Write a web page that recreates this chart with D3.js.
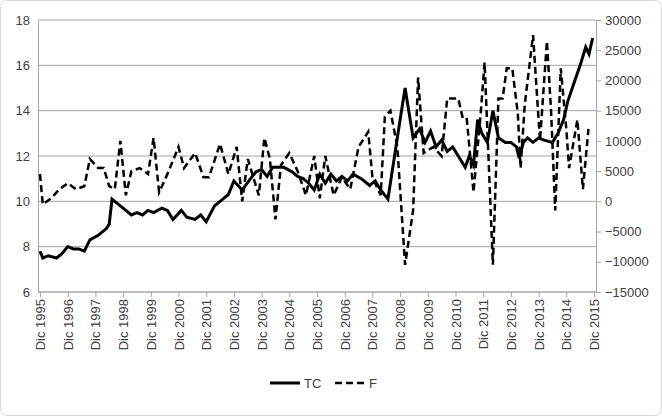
<!DOCTYPE html>
<html><head><meta charset="utf-8">
<script src="https://cdn.jsdelivr.net/npm/d3@7"></script>
<style>body{margin:0;background:#fff}text{font-family:"Liberation Sans Narrow","Liberation Sans",Arial,sans-serif;fill:#404040}</style>
</head><body><svg id="c" width="662" height="416"></svg>
<script>
const years = d3.range(1995, 2016).map(y => "Dic " + y);
const leftTicks = [6, 8, 10, 12, 14, 16, 18];
const rightTicks = d3.range(-15000, 30001, 5000);
const tcT = [1995.9,1996.0,1996.2,1996.5,1996.7,1996.9,1997.1,1997.3,1997.5,1997.7,1998.0,1998.3,1998.4,1998.5,1998.7,1998.9,1999.2,1999.4,1999.6,1999.8,2000,2000.3,2000.5,2000.7,2001,2001.2,2001.5,2001.7,2001.9,2002.2,2002.5,2002.7,2002.9,2003.2,2003.5,2003.7,2003.9,2004.1,2004.3,2004.7,2005,2005.2,2005.4,2005.6,2005.8,2006,2006.2,2006.4,2006.6,2006.8,2007,2007.2,2007.5,2007.8,2008.0,2008.2,2008.46,2008.7,2008.9,2009.08,2009.37,2009.6,2009.8,2010.0,2010.2,2010.4,2010.6,2010.8,2011.0,2011.25,2011.4,2011.55,2011.7,2011.85,2012.05,2012.25,2012.45,2012.7,2012.9,2013.1,2013.2,2013.35,2013.5,2013.7,2013.9,2014.1,2014.4,2014.6,2014.8,2014.95,2015.2,2015.4,2015.6,2015.72,2015.85];
const tcV = [7.8,7.5,7.6,7.5,7.7,8.0,7.9,7.9,7.8,8.3,8.5,8.8,9.0,10.1,9.9,9.7,9.4,9.5,9.4,9.6,9.5,9.7,9.6,9.2,9.6,9.3,9.2,9.4,9.1,9.8,10.1,10.3,10.9,10.5,11.0,11.3,11.4,11.1,11.5,11.5,11.3,11.1,11.0,10.8,10.5,11.2,10.8,11.2,10.9,11.1,10.9,11.2,11.0,10.7,10.9,10.5,10.1,12.0,13.6,15.0,12.8,13.2,12.6,13.1,12.4,12.7,12.2,12.4,12.0,11.5,12.0,11.6,13.6,13.0,12.6,14.0,12.8,12.6,12.6,12.4,11.9,12.6,12.8,12.6,12.8,12.7,12.6,13.0,13.6,14.4,15.3,16.0,16.8,16.5,17.2];
const fT = [1995.9,1996.0,1996.3,1996.6,1996.9,1997.2,1997.5,1997.7,1998.0,1998.2,1998.4,1998.6,1998.8,1999.0,1999.2,1999.5,1999.8,2000.0,2000.2,2000.5,2000.9,2001.1,2001.5,2001.8,2002.0,2002.4,2002.7,2003.0,2003.2,2003.4,2003.8,2004.0,2004.2,2004.4,2004.6,2004.9,2005.2,2005.5,2005.8,2006.0,2006.2,2006.5,2006.8,2007.1,2007.4,2007.75,2007.9,2008.2,2008.35,2008.55,2008.8,2009.08,2009.37,2009.55,2009.75,2010.1,2010.4,2010.6,2011.0,2011.15,2011.3,2011.55,2011.8,2011.95,2012.25,2012.45,2012.6,2012.75,2012.95,2013.15,2013.25,2013.4,2013.7,2013.95,2014.2,2014.35,2014.5,2014.7,2014.9,2015.0,2015.3,2015.5,2015.7];
const fV = [4500,-500,500,2000,3000,2000,2500,7000,5500,5500,2500,2000,10000,1000,5000,5500,4500,10500,1500,4500,9000,5500,8000,4000,4000,9500,4500,9000,0,7000,1000,10500,7000,-3000,6000,8000,5000,1000,7500,500,7500,1000,4000,2000,9000,11500,4000,1000,14000,15000,9000,-10500,-1500,20500,8000,9000,7500,17000,17000,14000,14000,1500,14000,23000,-10500,17000,17000,22000,22000,14500,5500,16000,27500,10000,26500,15000,-1500,22000,12000,5500,13500,2000,12000];

const svg = d3.select("#c");
svg.append("rect").attr("x",0.5).attr("y",0.5).attr("width",661).attr("height",415).attr("rx",6).attr("fill","#fff").attr("stroke","#d9d9d9");
const L=38,R=596,T=20,B=292;
const x = d3.scaleLinear().domain([1995.9,2015.9]).range([L+2,R-2]);
const yL = d3.scaleLinear().domain([6,18]).range([B,T]);
const yR = d3.scaleLinear().domain([-15000,30000]).range([B,T]);
svg.append("g").selectAll("line").data(leftTicks).join("line")
  .attr("x1",L).attr("x2",R).attr("y1",d=>yL(d)).attr("y2",d=>yL(d)).attr("stroke","#a6a6a6");
const ax = g => { g.select(".domain").attr("stroke","#a6a6a6"); g.selectAll(".tick line").attr("stroke","#a6a6a6"); g.selectAll("text").style("font-size","13px").attr("fill","#404040"); };
svg.append("g").attr("transform",`translate(${L},0)`).call(d3.axisLeft(yL).tickValues(leftTicks).tickSize(0).tickPadding(8)).call(ax);
svg.append("g").attr("transform",`translate(${R},0)`).call(d3.axisRight(yR).tickValues(rightTicks).tickFormat(d3.format("d")).tickSize(5).tickPadding(4)).call(ax);
const xs = d3.scalePoint().domain(years).range([L+2,R-2]);
const gx = svg.append("g").attr("transform",`translate(0,${B})`).call(d3.axisBottom(xs).tickSize(5).tickPadding(0)).call(ax);
gx.select(".domain").attr("d",`M${L},0H${R}`);
gx.selectAll("text").attr("transform","rotate(-90)").attr("text-anchor","end").attr("x",-7).attr("y",0).attr("dy","0.35em");
const lineTC = d3.line().x((d,i)=>x(tcT[i])).y(d=>yL(d));
const lineF = d3.line().x((d,i)=>x(fT[i])).y(d=>yR(d));
svg.append("path").attr("d",lineF(fV)).attr("fill","none").attr("stroke","#000").attr("stroke-width",2.5).attr("stroke-dasharray","7,4");
svg.append("path").attr("d",lineTC(tcV)).attr("fill","none").attr("stroke","#000").attr("stroke-width",3);
const lg = svg.append("g");
lg.append("line").attr("x1",270).attr("x2",300).attr("y1",383).attr("y2",383).attr("stroke","#000").attr("stroke-width",3);
lg.append("text").attr("x",304).attr("y",388).text("TC").style("font-size","13px");
lg.append("line").attr("x1",335).attr("x2",365).attr("y1",383).attr("y2",383).attr("stroke","#000").attr("stroke-width",2.5).attr("stroke-dasharray","7,4");
lg.append("text").attr("x",369).attr("y",388).text("F").style("font-size","13px");
</script></body></html>
